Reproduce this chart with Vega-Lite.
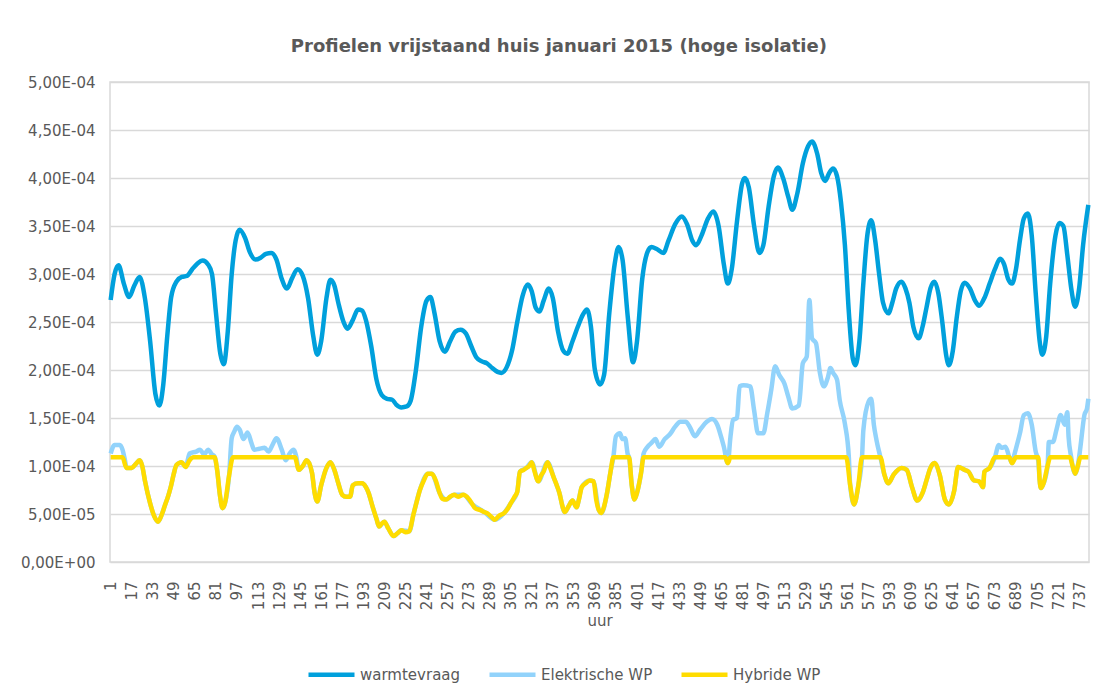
{
  "$schema": "https://vega.github.io/schema/vega-lite/v6.json",
  "width": 979,
  "height": 480,
  "padding": {"left": 20, "top": 38, "right": 10, "bottom": 5},
  "background": "white",
  "title": {"text": "Profielen vrijstaand huis januari 2015 (hoge isolatie)", "anchor": "middle", "frame": "bounds", "fontSize": 18, "fontWeight": "bold", "color": "#595959", "offset": 19},
  "config": {
    "font": "DejaVu Sans",
    "view": {"stroke": "#d9d9d9", "strokeWidth": 1.5},
    "axis": {"labelColor": "#595959", "titleColor": "#595959", "labelFontSize": 15, "titleFontSize": 15, "titleFontWeight": "normal", "domain": false, "ticks": false, "gridColor": "#d9d9d9", "gridWidth": 1.5},
    "axisX": {"labelOverlap": false},
    "legend": {"labelColor": "#595959", "labelFontSize": 15}
  },
  "datasets": {
    "warm": [
      {"uur":1,"waarde":2.73e-4},{"uur":4,"waarde":3.00e-4},{"uur":7,"waarde":3.09e-4},{"uur":11,"waarde":2.90e-4},{"uur":15,"waarde":2.76e-4},{"uur":19,"waarde":2.88e-4},{"uur":23,"waarde":2.97e-4},{"uur":27,"waarde":2.75e-4},{"uur":31,"waarde":2.30e-4},{"uur":35,"waarde":1.75e-4},{"uur":38,"waarde":1.63e-4},{"uur":41,"waarde":1.85e-4},{"uur":44,"waarde":2.35e-4},{"uur":47,"waarde":2.76e-4},{"uur":51,"waarde":2.92e-4},{"uur":55,"waarde":2.97e-4},{"uur":59,"waarde":2.98e-4},{"uur":63,"waarde":3.05e-4},{"uur":67,"waarde":3.11e-4},{"uur":71,"waarde":3.14e-4},{"uur":75,"waarde":3.10e-4},{"uur":78,"waarde":3.00e-4},{"uur":81,"waarde":2.60e-4},{"uur":84,"waarde":2.20e-4},{"uur":87,"waarde":2.06e-4},{"uur":90,"waarde":2.40e-4},{"uur":93,"waarde":3.00e-4},{"uur":96,"waarde":3.35e-4},{"uur":99,"waarde":3.46e-4},{"uur":103,"waarde":3.38e-4},{"uur":107,"waarde":3.22e-4},{"uur":111,"waarde":3.15e-4},{"uur":115,"waarde":3.17e-4},{"uur":119,"waarde":3.21e-4},{"uur":123,"waarde":3.22e-4},{"uur":127,"waarde":3.15e-4},{"uur":131,"waarde":2.95e-4},{"uur":135,"waarde":2.85e-4},{"uur":139,"waarde":2.96e-4},{"uur":143,"waarde":3.05e-4},{"uur":147,"waarde":2.98e-4},{"uur":151,"waarde":2.75e-4},{"uur":155,"waarde":2.35e-4},{"uur":158,"waarde":2.16e-4},{"uur":161,"waarde":2.30e-4},{"uur":165,"waarde":2.75e-4},{"uur":168,"waarde":2.94e-4},{"uur":171,"waarde":2.88e-4},{"uur":174,"waarde":2.70e-4},{"uur":178,"waarde":2.50e-4},{"uur":181,"waarde":2.43e-4},{"uur":185,"waarde":2.52e-4},{"uur":189,"waarde":2.63e-4},{"uur":192,"waarde":2.62e-4},{"uur":195,"waarde":2.52e-4},{"uur":199,"waarde":2.25e-4},{"uur":203,"waarde":1.90e-4},{"uur":207,"waarde":1.74e-4},{"uur":211,"waarde":1.70e-4},{"uur":215,"waarde":1.69e-4},{"uur":218,"waarde":1.64e-4},{"uur":222,"waarde":1.61e-4},{"uur":226,"waarde":1.62e-4},{"uur":229,"waarde":1.68e-4},{"uur":233,"waarde":2.00e-4},{"uur":237,"waarde":2.45e-4},{"uur":241,"waarde":2.72e-4},{"uur":244,"waarde":2.76e-4},{"uur":247,"waarde":2.60e-4},{"uur":251,"waarde":2.30e-4},{"uur":255,"waarde":2.19e-4},{"uur":259,"waarde":2.30e-4},{"uur":263,"waarde":2.40e-4},{"uur":267,"waarde":2.42e-4},{"uur":271,"waarde":2.38e-4},{"uur":275,"waarde":2.25e-4},{"uur":279,"waarde":2.13e-4},{"uur":283,"waarde":2.09e-4},{"uur":287,"waarde":2.07e-4},{"uur":291,"waarde":2.02e-4},{"uur":295,"waarde":1.98e-4},{"uur":298,"waarde":1.97e-4},{"uur":302,"waarde":2.03e-4},{"uur":306,"waarde":2.20e-4},{"uur":310,"waarde":2.50e-4},{"uur":314,"waarde":2.77e-4},{"uur":318,"waarde":2.89e-4},{"uur":321,"waarde":2.82e-4},{"uur":324,"waarde":2.65e-4},{"uur":327,"waarde":2.61e-4},{"uur":330,"waarde":2.72e-4},{"uur":334,"waarde":2.85e-4},{"uur":337,"waarde":2.75e-4},{"uur":341,"waarde":2.40e-4},{"uur":345,"waarde":2.20e-4},{"uur":348,"waarde":2.17e-4},{"uur":352,"waarde":2.30e-4},{"uur":356,"waarde":2.45e-4},{"uur":360,"waarde":2.58e-4},{"uur":363,"waarde":2.63e-4},{"uur":366,"waarde":2.45e-4},{"uur":369,"waarde":2.00e-4},{"uur":373,"waarde":1.85e-4},{"uur":376,"waarde":1.95e-4},{"uur":380,"waarde":2.60e-4},{"uur":384,"waarde":3.10e-4},{"uur":387,"waarde":3.28e-4},{"uur":390,"waarde":3.15e-4},{"uur":394,"waarde":2.55e-4},{"uur":398,"waarde":2.08e-4},{"uur":401,"waarde":2.30e-4},{"uur":405,"waarde":2.95e-4},{"uur":409,"waarde":3.23e-4},{"uur":412,"waarde":3.28e-4},{"uur":416,"waarde":3.26e-4},{"uur":421,"waarde":3.22e-4},{"uur":425,"waarde":3.35e-4},{"uur":430,"waarde":3.52e-4},{"uur":435,"waarde":3.60e-4},{"uur":439,"waarde":3.52e-4},{"uur":443,"waarde":3.35e-4},{"uur":446,"waarde":3.30e-4},{"uur":450,"waarde":3.40e-4},{"uur":455,"waarde":3.58e-4},{"uur":459,"waarde":3.65e-4},{"uur":463,"waarde":3.50e-4},{"uur":467,"waarde":3.10e-4},{"uur":470,"waarde":2.90e-4},{"uur":473,"waarde":3.05e-4},{"uur":477,"waarde":3.55e-4},{"uur":481,"waarde":3.95e-4},{"uur":483,"waarde":4.00e-4},{"uur":486,"waarde":3.90e-4},{"uur":490,"waarde":3.50e-4},{"uur":494,"waarde":3.22e-4},{"uur":497,"waarde":3.30e-4},{"uur":501,"waarde":3.70e-4},{"uur":505,"waarde":4.02e-4},{"uur":508,"waarde":4.11e-4},{"uur":512,"waarde":4.00e-4},{"uur":516,"waarde":3.80e-4},{"uur":519,"waarde":3.67e-4},{"uur":523,"waarde":3.85e-4},{"uur":527,"waarde":4.15e-4},{"uur":531,"waarde":4.33e-4},{"uur":534,"waarde":4.38e-4},{"uur":538,"waarde":4.25e-4},{"uur":541,"waarde":4.05e-4},{"uur":544,"waarde":3.97e-4},{"uur":547,"waarde":4.05e-4},{"uur":550,"waarde":4.10e-4},{"uur":553,"waarde":4.02e-4},{"uur":556,"waarde":3.75e-4},{"uur":559,"waarde":3.30e-4},{"uur":562,"waarde":2.60e-4},{"uur":565,"waarde":2.12e-4},{"uur":567,"waarde":2.05e-4},{"uur":570,"waarde":2.30e-4},{"uur":573,"waarde":2.90e-4},{"uur":576,"waarde":3.40e-4},{"uur":579,"waarde":3.56e-4},{"uur":582,"waarde":3.35e-4},{"uur":585,"waarde":3.00e-4},{"uur":588,"waarde":2.70e-4},{"uur":592,"waarde":2.59e-4},{"uur":595,"waarde":2.70e-4},{"uur":598,"waarde":2.85e-4},{"uur":602,"waarde":2.92e-4},{"uur":605,"waarde":2.85e-4},{"uur":608,"waarde":2.70e-4},{"uur":611,"waarde":2.45e-4},{"uur":615,"waarde":2.33e-4},{"uur":618,"waarde":2.45e-4},{"uur":621,"waarde":2.65e-4},{"uur":624,"waarde":2.85e-4},{"uur":627,"waarde":2.92e-4},{"uur":630,"waarde":2.80e-4},{"uur":633,"waarde":2.50e-4},{"uur":636,"waarde":2.15e-4},{"uur":638,"waarde":2.05e-4},{"uur":641,"waarde":2.20e-4},{"uur":644,"waarde":2.55e-4},{"uur":647,"waarde":2.82e-4},{"uur":650,"waarde":2.91e-4},{"uur":654,"waarde":2.85e-4},{"uur":658,"waarde":2.72e-4},{"uur":661,"waarde":2.67e-4},{"uur":665,"waarde":2.75e-4},{"uur":669,"waarde":2.90e-4},{"uur":673,"waarde":3.05e-4},{"uur":677,"waarde":3.16e-4},{"uur":680,"waarde":3.10e-4},{"uur":683,"waarde":2.95e-4},{"uur":686,"waarde":2.90e-4},{"uur":689,"waarde":3.05e-4},{"uur":692,"waarde":3.35e-4},{"uur":695,"waarde":3.58e-4},{"uur":698,"waarde":3.63e-4},{"uur":701,"waarde":3.40e-4},{"uur":704,"waarde":2.80e-4},{"uur":707,"waarde":2.30e-4},{"uur":709,"waarde":2.16e-4},{"uur":712,"waarde":2.35e-4},{"uur":715,"waarde":2.90e-4},{"uur":719,"waarde":3.40e-4},{"uur":722,"waarde":3.53e-4},{"uur":725,"waarde":3.50e-4},{"uur":728,"waarde":3.20e-4},{"uur":731,"waarde":2.85e-4},{"uur":734,"waarde":2.66e-4},{"uur":737,"waarde":2.85e-4},{"uur":740,"waarde":3.30e-4},{"uur":744,"waarde":3.72e-4}
    ],
    "elek": [
      {"uur":1,"waarde":1.13e-4},{"uur":4,"waarde":1.22e-4},{"uur":8,"waarde":1.22e-4},{"uur":10,"waarde":1.17e-4},{"uur":12,"waarde":1.05e-4},{"uur":13,"waarde":0.98e-4},{"uur":17,"waarde":0.98e-4},{"uur":20,"waarde":1.02e-4},{"uur":23,"waarde":1.06e-4},{"uur":25,"waarde":1.00e-4},{"uur":27,"waarde":0.85e-4},{"uur":31,"waarde":0.61e-4},{"uur":34,"waarde":0.48e-4},{"uur":37,"waarde":0.42e-4},{"uur":40,"waarde":0.50e-4},{"uur":42,"waarde":0.58e-4},{"uur":45,"waarde":0.70e-4},{"uur":47,"waarde":0.80e-4},{"uur":49,"waarde":0.92e-4},{"uur":51,"waarde":1.01e-4},{"uur":55,"waarde":1.04e-4},{"uur":58,"waarde":0.99e-4},{"uur":61,"waarde":1.13e-4},{"uur":66,"waarde":1.15e-4},{"uur":69,"waarde":1.17e-4},{"uur":72,"waarde":1.12e-4},{"uur":75,"waarde":1.17e-4},{"uur":78,"waarde":1.12e-4},{"uur":80,"waarde":1.10e-4},{"uur":82,"waarde":0.95e-4},{"uur":84,"waarde":0.70e-4},{"uur":86,"waarde":0.56e-4},{"uur":88,"waarde":0.62e-4},{"uur":91,"waarde":0.90e-4},{"uur":93,"waarde":1.29e-4},{"uur":95,"waarde":1.36e-4},{"uur":97,"waarde":1.41e-4},{"uur":99,"waarde":1.38e-4},{"uur":102,"waarde":1.28e-4},{"uur":105,"waarde":1.35e-4},{"uur":108,"waarde":1.24e-4},{"uur":110,"waarde":1.17e-4},{"uur":114,"waarde":1.18e-4},{"uur":118,"waarde":1.19e-4},{"uur":121,"waarde":1.15e-4},{"uur":124,"waarde":1.22e-4},{"uur":127,"waarde":1.29e-4},{"uur":131,"waarde":1.17e-4},{"uur":134,"waarde":1.06e-4},{"uur":137,"waarde":1.13e-4},{"uur":140,"waarde":1.17e-4},{"uur":142,"waarde":1.10e-4},{"uur":144,"waarde":0.96e-4},{"uur":147,"waarde":1.00e-4},{"uur":150,"waarde":1.06e-4},{"uur":154,"waarde":0.93e-4},{"uur":156,"waarde":0.72e-4},{"uur":158,"waarde":0.63e-4},{"uur":161,"waarde":0.80e-4},{"uur":165,"waarde":0.98e-4},{"uur":168,"waarde":1.04e-4},{"uur":171,"waarde":0.96e-4},{"uur":174,"waarde":0.82e-4},{"uur":177,"waarde":0.70e-4},{"uur":180,"waarde":0.68e-4},{"uur":183,"waarde":0.68e-4},{"uur":185,"waarde":0.80e-4},{"uur":189,"waarde":0.82e-4},{"uur":192,"waarde":0.82e-4},{"uur":195,"waarde":0.78e-4},{"uur":197,"waarde":0.72e-4},{"uur":200,"waarde":0.58e-4},{"uur":203,"waarde":0.45e-4},{"uur":205,"waarde":0.37e-4},{"uur":209,"waarde":0.42e-4},{"uur":212,"waarde":0.35e-4},{"uur":216,"waarde":0.27e-4},{"uur":222,"waarde":0.33e-4},{"uur":228,"waarde":0.32e-4},{"uur":231,"waarde":0.49e-4},{"uur":236,"waarde":0.75e-4},{"uur":242,"waarde":0.92e-4},{"uur":245,"waarde":0.92e-4},{"uur":251,"waarde":0.72e-4},{"uur":256,"waarde":0.65e-4},{"uur":262,"waarde":0.70e-4},{"uur":269,"waarde":0.70e-4},{"uur":276,"waarde":0.60e-4},{"uur":285,"waarde":0.52e-4},{"uur":293,"waarde":0.44e-4},{"uur":300,"waarde":0.51e-4},{"uur":305,"waarde":0.61e-4},{"uur":310,"waarde":0.73e-4},{"uur":312,"waarde":0.94e-4},{"uur":317,"waarde":0.98e-4},{"uur":321,"waarde":1.04e-4},{"uur":326,"waarde":0.84e-4},{"uur":333,"waarde":1.04e-4},{"uur":338,"waarde":0.87e-4},{"uur":342,"waarde":0.72e-4},{"uur":346,"waarde":0.52e-4},{"uur":352,"waarde":0.64e-4},{"uur":355,"waarde":0.57e-4},{"uur":359,"waarde":0.78e-4},{"uur":365,"waarde":0.85e-4},{"uur":368,"waarde":0.84e-4},{"uur":372,"waarde":0.54e-4},{"uur":374,"waarde":0.51e-4},{"uur":378,"waarde":0.70e-4},{"uur":381,"waarde":0.95e-4},{"uur":383,"waarde":1.09e-4},{"uur":385,"waarde":1.31e-4},{"uur":388,"waarde":1.34e-4},{"uur":390,"waarde":1.28e-4},{"uur":392,"waarde":1.29e-4},{"uur":394,"waarde":1.12e-4},{"uur":395,"waarde":1.09e-4},{"uur":397,"waarde":0.80e-4},{"uur":399,"waarde":0.65e-4},{"uur":401,"waarde":0.72e-4},{"uur":404,"waarde":0.92e-4},{"uur":406,"waarde":1.13e-4},{"uur":409,"waarde":1.20e-4},{"uur":412,"waarde":1.24e-4},{"uur":415,"waarde":1.28e-4},{"uur":418,"waarde":1.20e-4},{"uur":422,"waarde":1.28e-4},{"uur":426,"waarde":1.33e-4},{"uur":430,"waarde":1.41e-4},{"uur":434,"waarde":1.46e-4},{"uur":438,"waarde":1.46e-4},{"uur":441,"waarde":1.41e-4},{"uur":445,"waarde":1.31e-4},{"uur":449,"waarde":1.38e-4},{"uur":454,"waarde":1.46e-4},{"uur":458,"waarde":1.49e-4},{"uur":462,"waarde":1.43e-4},{"uur":465,"waarde":1.30e-4},{"uur":467,"waarde":1.20e-4},{"uur":470,"waarde":1.03e-4},{"uur":472,"waarde":1.30e-4},{"uur":474,"waarde":1.48e-4},{"uur":477,"waarde":1.50e-4},{"uur":479,"waarde":1.83e-4},{"uur":482,"waarde":1.84e-4},{"uur":487,"waarde":1.83e-4},{"uur":490,"waarde":1.58e-4},{"uur":493,"waarde":1.34e-4},{"uur":497,"waarde":1.34e-4},{"uur":500,"waarde":1.55e-4},{"uur":503,"waarde":1.79e-4},{"uur":506,"waarde":2.04e-4},{"uur":509,"waarde":1.95e-4},{"uur":513,"waarde":1.86e-4},{"uur":516,"waarde":1.72e-4},{"uur":519,"waarde":1.60e-4},{"uur":524,"waarde":1.63e-4},{"uur":527,"waarde":2.07e-4},{"uur":530,"waarde":2.14e-4},{"uur":532,"waarde":2.73e-4},{"uur":534,"waarde":2.33e-4},{"uur":537,"waarde":2.28e-4},{"uur":540,"waarde":1.97e-4},{"uur":543,"waarde":1.83e-4},{"uur":546,"waarde":1.92e-4},{"uur":548,"waarde":2.02e-4},{"uur":550,"waarde":1.97e-4},{"uur":553,"waarde":1.90e-4},{"uur":555,"waarde":1.69e-4},{"uur":559,"waarde":1.44e-4},{"uur":562,"waarde":1.09e-4},{"uur":563,"waarde":0.80e-4},{"uur":566,"waarde":0.60e-4},{"uur":569,"waarde":0.78e-4},{"uur":572,"waarde":1.09e-4},{"uur":573,"waarde":1.37e-4},{"uur":577,"waarde":1.67e-4},{"uur":579,"waarde":1.70e-4},{"uur":581,"waarde":1.43e-4},{"uur":583,"waarde":1.27e-4},{"uur":586,"waarde":1.09e-4},{"uur":589,"waarde":0.91e-4},{"uur":592,"waarde":0.82e-4},{"uur":596,"waarde":0.91e-4},{"uur":602,"waarde":0.98e-4},{"uur":606,"waarde":0.96e-4},{"uur":610,"waarde":0.78e-4},{"uur":614,"waarde":0.64e-4},{"uur":618,"waarde":0.72e-4},{"uur":621,"waarde":0.85e-4},{"uur":624,"waarde":0.98e-4},{"uur":627,"waarde":1.03e-4},{"uur":631,"waarde":0.91e-4},{"uur":635,"waarde":0.65e-4},{"uur":638,"waarde":0.60e-4},{"uur":642,"waarde":0.74e-4},{"uur":645,"waarde":0.99e-4},{"uur":650,"waarde":0.96e-4},{"uur":653,"waarde":0.94e-4},{"uur":657,"waarde":0.85e-4},{"uur":661,"waarde":0.84e-4},{"uur":664,"waarde":0.78e-4},{"uur":665,"waarde":0.94e-4},{"uur":669,"waarde":0.98e-4},{"uur":673,"waarde":1.09e-4},{"uur":676,"waarde":1.22e-4},{"uur":678,"waarde":1.19e-4},{"uur":681,"waarde":1.20e-4},{"uur":684,"waarde":1.09e-4},{"uur":686,"waarde":1.03e-4},{"uur":688,"waarde":1.13e-4},{"uur":692,"waarde":1.34e-4},{"uur":695,"waarde":1.53e-4},{"uur":698,"waarde":1.55e-4},{"uur":701,"waarde":1.43e-4},{"uur":704,"waarde":1.15e-4},{"uur":706,"waarde":1.05e-4},{"uur":707,"waarde":0.85e-4},{"uur":708,"waarde":0.77e-4},{"uur":710,"waarde":0.82e-4},{"uur":713,"waarde":1.00e-4},{"uur":714,"waarde":1.25e-4},{"uur":717,"waarde":1.25e-4},{"uur":720,"waarde":1.39e-4},{"uur":723,"waarde":1.53e-4},{"uur":726,"waarde":1.43e-4},{"uur":728,"waarde":1.56e-4},{"uur":729,"waarde":1.30e-4},{"uur":731,"waarde":1.09e-4},{"uur":732,"waarde":1.00e-4},{"uur":734,"waarde":0.92e-4},{"uur":736,"waarde":1.00e-4},{"uur":738,"waarde":1.20e-4},{"uur":741,"waarde":1.53e-4},{"uur":743,"waarde":1.60e-4},{"uur":744,"waarde":1.70e-4}
    ],
    "hyb": [
      {"uur":1,"waarde":1.09e-4},{"uur":10,"waarde":1.09e-4},{"uur":13,"waarde":0.98e-4},{"uur":17,"waarde":0.98e-4},{"uur":20,"waarde":1.02e-4},{"uur":23,"waarde":1.06e-4},{"uur":25,"waarde":1.00e-4},{"uur":27,"waarde":0.85e-4},{"uur":31,"waarde":0.61e-4},{"uur":34,"waarde":0.48e-4},{"uur":37,"waarde":0.42e-4},{"uur":40,"waarde":0.50e-4},{"uur":42,"waarde":0.58e-4},{"uur":45,"waarde":0.70e-4},{"uur":47,"waarde":0.80e-4},{"uur":49,"waarde":0.92e-4},{"uur":51,"waarde":1.01e-4},{"uur":55,"waarde":1.04e-4},{"uur":58,"waarde":0.99e-4},{"uur":61,"waarde":1.06e-4},{"uur":64,"waarde":1.09e-4},{"uur":80,"waarde":1.09e-4},{"uur":82,"waarde":0.95e-4},{"uur":84,"waarde":0.70e-4},{"uur":86,"waarde":0.56e-4},{"uur":88,"waarde":0.62e-4},{"uur":91,"waarde":0.90e-4},{"uur":94,"waarde":1.09e-4},{"uur":141,"waarde":1.09e-4},{"uur":144,"waarde":0.96e-4},{"uur":147,"waarde":1.00e-4},{"uur":150,"waarde":1.06e-4},{"uur":154,"waarde":0.93e-4},{"uur":156,"waarde":0.72e-4},{"uur":158,"waarde":0.63e-4},{"uur":161,"waarde":0.80e-4},{"uur":165,"waarde":0.98e-4},{"uur":168,"waarde":1.04e-4},{"uur":171,"waarde":0.96e-4},{"uur":174,"waarde":0.82e-4},{"uur":177,"waarde":0.70e-4},{"uur":180,"waarde":0.68e-4},{"uur":183,"waarde":0.68e-4},{"uur":185,"waarde":0.80e-4},{"uur":189,"waarde":0.82e-4},{"uur":192,"waarde":0.82e-4},{"uur":195,"waarde":0.78e-4},{"uur":197,"waarde":0.72e-4},{"uur":200,"waarde":0.58e-4},{"uur":203,"waarde":0.45e-4},{"uur":205,"waarde":0.37e-4},{"uur":207,"waarde":0.40e-4},{"uur":209,"waarde":0.42e-4},{"uur":212,"waarde":0.35e-4},{"uur":216,"waarde":0.27e-4},{"uur":219,"waarde":0.30e-4},{"uur":222,"waarde":0.33e-4},{"uur":225,"waarde":0.31e-4},{"uur":228,"waarde":0.32e-4},{"uur":231,"waarde":0.49e-4},{"uur":234,"waarde":0.65e-4},{"uur":236,"waarde":0.75e-4},{"uur":239,"waarde":0.85e-4},{"uur":242,"waarde":0.92e-4},{"uur":245,"waarde":0.92e-4},{"uur":248,"waarde":0.85e-4},{"uur":251,"waarde":0.72e-4},{"uur":253,"waarde":0.66e-4},{"uur":256,"waarde":0.65e-4},{"uur":259,"waarde":0.68e-4},{"uur":262,"waarde":0.70e-4},{"uur":265,"waarde":0.68e-4},{"uur":269,"waarde":0.70e-4},{"uur":273,"waarde":0.66e-4},{"uur":276,"waarde":0.60e-4},{"uur":278,"waarde":0.56e-4},{"uur":282,"waarde":0.54e-4},{"uur":285,"waarde":0.52e-4},{"uur":288,"waarde":0.50e-4},{"uur":291,"waarde":0.46e-4},{"uur":293,"waarde":0.44e-4},{"uur":296,"waarde":0.48e-4},{"uur":300,"waarde":0.51e-4},{"uur":303,"waarde":0.56e-4},{"uur":305,"waarde":0.61e-4},{"uur":308,"waarde":0.68e-4},{"uur":310,"waarde":0.73e-4},{"uur":312,"waarde":0.94e-4},{"uur":315,"waarde":0.96e-4},{"uur":317,"waarde":0.98e-4},{"uur":319,"waarde":1.00e-4},{"uur":321,"waarde":1.04e-4},{"uur":323,"waarde":0.95e-4},{"uur":326,"waarde":0.84e-4},{"uur":328,"waarde":0.90e-4},{"uur":330,"waarde":0.94e-4},{"uur":333,"waarde":1.04e-4},{"uur":335,"waarde":0.98e-4},{"uur":338,"waarde":0.87e-4},{"uur":340,"waarde":0.80e-4},{"uur":342,"waarde":0.72e-4},{"uur":344,"waarde":0.60e-4},{"uur":346,"waarde":0.52e-4},{"uur":349,"waarde":0.58e-4},{"uur":352,"waarde":0.64e-4},{"uur":355,"waarde":0.57e-4},{"uur":357,"waarde":0.66e-4},{"uur":359,"waarde":0.78e-4},{"uur":362,"waarde":0.82e-4},{"uur":365,"waarde":0.85e-4},{"uur":368,"waarde":0.84e-4},{"uur":370,"waarde":0.65e-4},{"uur":372,"waarde":0.54e-4},{"uur":374,"waarde":0.51e-4},{"uur":376,"waarde":0.58e-4},{"uur":378,"waarde":0.70e-4},{"uur":381,"waarde":0.95e-4},{"uur":383,"waarde":1.09e-4},{"uur":395,"waarde":1.09e-4},{"uur":397,"waarde":0.80e-4},{"uur":399,"waarde":0.65e-4},{"uur":401,"waarde":0.72e-4},{"uur":404,"waarde":0.92e-4},{"uur":406,"waarde":1.09e-4},{"uur":468,"waarde":1.09e-4},{"uur":470,"waarde":1.03e-4},{"uur":472,"waarde":1.09e-4},{"uur":560,"waarde":1.09e-4},{"uur":563,"waarde":0.80e-4},{"uur":566,"waarde":0.60e-4},{"uur":569,"waarde":0.78e-4},{"uur":572,"waarde":1.09e-4},{"uur":586,"waarde":1.09e-4},{"uur":589,"waarde":0.91e-4},{"uur":592,"waarde":0.82e-4},{"uur":596,"waarde":0.91e-4},{"uur":602,"waarde":0.98e-4},{"uur":606,"waarde":0.96e-4},{"uur":610,"waarde":0.78e-4},{"uur":614,"waarde":0.64e-4},{"uur":618,"waarde":0.72e-4},{"uur":621,"waarde":0.85e-4},{"uur":624,"waarde":0.98e-4},{"uur":627,"waarde":1.03e-4},{"uur":631,"waarde":0.91e-4},{"uur":635,"waarde":0.65e-4},{"uur":638,"waarde":0.60e-4},{"uur":642,"waarde":0.74e-4},{"uur":645,"waarde":0.99e-4},{"uur":650,"waarde":0.96e-4},{"uur":653,"waarde":0.94e-4},{"uur":657,"waarde":0.85e-4},{"uur":661,"waarde":0.84e-4},{"uur":664,"waarde":0.78e-4},{"uur":665,"waarde":0.94e-4},{"uur":669,"waarde":0.98e-4},{"uur":673,"waarde":1.09e-4},{"uur":684,"waarde":1.09e-4},{"uur":686,"waarde":1.03e-4},{"uur":689,"waarde":1.09e-4},{"uur":706,"waarde":1.09e-4},{"uur":707,"waarde":0.85e-4},{"uur":708,"waarde":0.77e-4},{"uur":710,"waarde":0.82e-4},{"uur":713,"waarde":1.00e-4},{"uur":715,"waarde":1.09e-4},{"uur":730,"waarde":1.09e-4},{"uur":732,"waarde":1.00e-4},{"uur":734,"waarde":0.92e-4},{"uur":736,"waarde":1.00e-4},{"uur":738,"waarde":1.09e-4},{"uur":744,"waarde":1.09e-4}
    ]
  },
  "encoding": {
    "x": {"field": "uur", "type": "quantitative", "title": "uur",
      "scale": {"domain": [0.5, 744.5], "nice": false, "zero": false},
      "axis": {"values": [1,17,33,49,65,81,97,113,129,145,161,177,193,209,225,241,257,273,289,305,321,337,353,369,385,401,417,433,449,465,481,497,513,529,545,561,577,593,609,625,641,657,673,689,705,721,737], "labelAngle": -90, "format": "d", "grid": false, "labelPadding": 19, "titlePadding": 4, "labelOverlap": false, "labelBound": false, "labelFlush": false}},
    "y": {"field": "waarde", "type": "quantitative", "title": null,
      "scale": {"domain": [0, 0.0005], "nice": false},
      "axis": {"values": [0, 0.00005, 0.0001, 0.00015, 0.0002, 0.00025, 0.0003, 0.00035, 0.0004, 0.00045, 0.0005], "labelPadding": 15, "minExtent": 85, "maxExtent": 85,
        "labelExpr": "datum.value == 0 ? '0,00E+00' : replace(format(datum.value / pow(10, floor(log(datum.value) / LN10 + 1e-9)), '.2f'), '.', ',') + 'E-0' + toString(-floor(log(datum.value) / LN10 + 1e-9))"}}
  },
  "layer": [
    {
      "data": {"name": "warm"},
      "mark": {"type": "line", "strokeWidth": 4.5, "interpolate": "monotone"},
      "encoding": {
        "color": {"datum": "warmtevraag", "type": "nominal",
          "scale": {"domain": ["warmtevraag", "Elektrische WP", "Hybride WP"], "range": ["#00a0dc", "#92d3fb", "#ffdc00"]},
          "legend": {"title": null, "orient": "none", "legendX": 196, "legendY": 567, "direction": "horizontal", "symbolType": "stroke", "symbolStrokeWidth": 4.5, "symbolSize": 2116, "columnPadding": 19, "labelOffset": 3}}
      }
    },
    {
      "data": {"name": "elek"},
      "mark": {"type": "line", "strokeWidth": 4.5, "interpolate": "monotone"},
      "encoding": {"color": {"datum": "Elektrische WP", "type": "nominal"}}
    },
    {
      "data": {"name": "hyb"},
      "mark": {"type": "line", "strokeWidth": 4.5, "interpolate": "monotone"},
      "encoding": {"color": {"datum": "Hybride WP", "type": "nominal"}}
    }
  ]
}
